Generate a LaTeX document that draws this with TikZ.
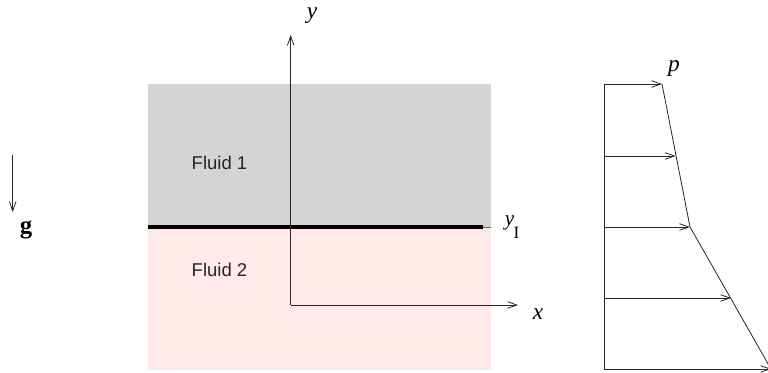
\documentclass[tikz,border=0pt]{standalone}
\usepackage{fontspec}
\setmainfont{Liberation Serif}
\setsansfont{Liberation Sans}
\usetikzlibrary{arrows.meta}
\definecolor{fluidgray}{RGB}{211,212,212}
\definecolor{fluidpink}{RGB}{255,233,233}
\begin{document}
\begin{tikzpicture}[x=0.75pt,y=-0.75pt,
  arr/.style={-{Straight Barb[length=7pt,width=5pt]}, line width=0.6pt, draw=black!85},
  thin/.style={line width=0.6pt, draw=black!85},
  mlabel/.style={font=\fontsize{17.5}{20}\selectfont\itshape, inner sep=0pt},
  fluidlabel/.style={font=\sffamily\fontsize{13.9}{16}\selectfont, inner sep=0pt, text=black!85}]
\useasboundingbox (0,0) rectangle (768,373);
\clip (0,0) rectangle (768,373);
% fluids
\fill[fluidgray] (148,84) rectangle (491,227);
\fill[fluidpink] (148,227) rectangle (491,370);
\coordinate (IL) at (148,227);
\coordinate (IM) at (483,227);
\coordinate (IR) at (491,227);
\draw[line width=3pt] (IL) -- (IM);
\draw[line width=0.6pt, draw=black!60] (IM) -- (IR);
\node[fluidlabel, anchor=base] (f1) at (219.5,170) {Fluid 1};
\node[fluidlabel, anchor=base] (f2) at (219.5,277) {Fluid 2};
% axes
\coordinate (O) at (290.7,305);
\coordinate (ytip) at (290.7,35);
\coordinate (xtip) at (518,305);
\draw[arr] (O) -- (ytip);
\draw[arr] (O) -- (xtip);
\node[mlabel, anchor=base] (ylab) at (312,19) {y};
\node[mlabel, anchor=base] (xlab) at (538,320) {x};
\node[mlabel, font=\fontsize{16}{18}\selectfont\itshape, anchor=base west] (yI) at (504.5,226) {y\kern-0.5pt\raisebox{-9.5pt}{\upshape\fontsize{13}{13}\selectfont I}};
% gravity
\coordinate (gs) at (12.7,155);
\coordinate (ge) at (12.7,212);
\draw[arr] (gs) -- (ge);
\node[font=\bfseries\fontsize{18.5}{21}\selectfont, inner sep=0pt, anchor=base] (g) at (26,233.5) {g};
% pressure profile
\coordinate (P1) at (604,84);
\coordinate (P2) at (604,156);
\coordinate (P3) at (604,227);
\coordinate (P4) at (604,298);
\coordinate (P5) at (604,369);
\coordinate (Q1) at (662,84);
\coordinate (Q2) at (675.5,156);
\coordinate (Q3) at (690,227);
\coordinate (Q4) at (731,298);
\coordinate (Q5) at (771,369);
\draw[thin] (P1) -- (P5);
\foreach \i in {1,...,5} {\draw[arr] (P\i) -- (Q\i);}
\draw[thin] (Q1) -- (Q3) -- (Q5);
\node[mlabel, anchor=base] (plab) at (674,71.5) {p};
\end{tikzpicture}
\end{document}
